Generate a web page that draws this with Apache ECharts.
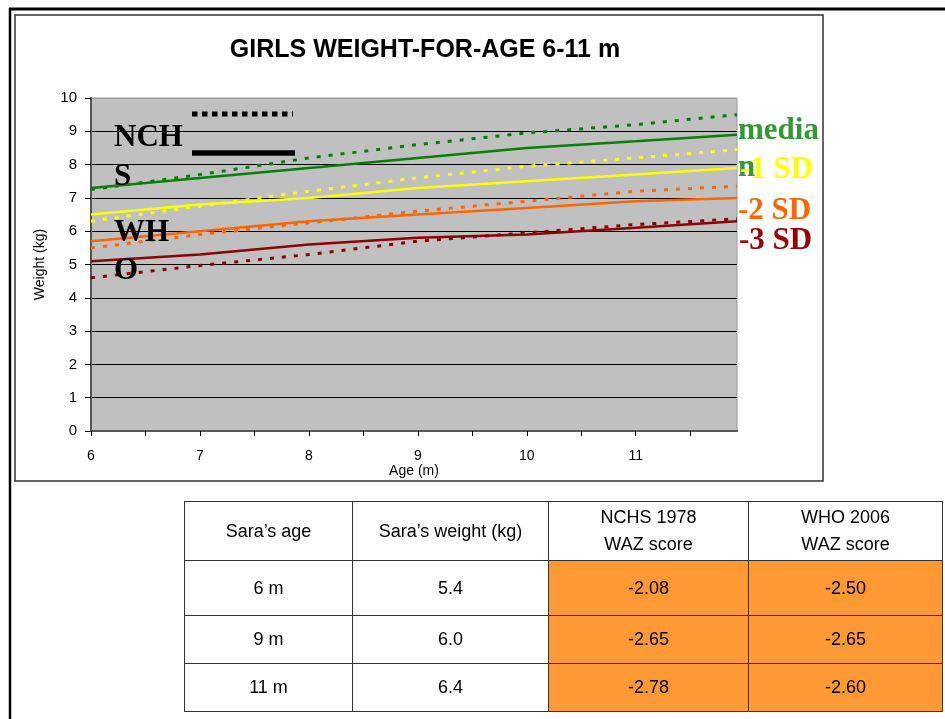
<!DOCTYPE html>
<html>
<head>
<meta charset="utf-8">
<title>Girls weight-for-age 6-11 m</title>
<script src="https://cdn.jsdelivr.net/npm/echarts@6/dist/echarts.min.js"></script>
<style>
body { margin: 0; background: #fff; }
#wrap { position: relative; width: 945px; height: 719px; overflow: hidden; }
#chart { position: absolute; left: 0; top: 0; width: 945px; height: 719px; }
#waz { position: absolute; left: 184px; top: 501px; width: 758px; border-collapse: collapse; table-layout: fixed;
       font-family: 'Liberation Sans', Arial, sans-serif; font-size: 18px; color: #000; }
#waz td { border: 1.5px solid #333; text-align: center; padding: 0; line-height: 27px; }
#waz td.hot { background: #ff9933; }
</style>
</head>
<body>
<div id="wrap">
  <div id="chart"></div>
  <table id="waz">
    <colgroup><col style="width:168px"><col style="width:196px"><col style="width:200px"><col style="width:194px"></colgroup>
    <tbody id="waz-body"></tbody>
  </table>
</div>
<script>
// ages (months) of the plotted points
var ages = [6, 7, 8, 9, 10, 11, 11.93];

// WHO 2006 (solid)
var whoMedian = [7.3, 7.6, 7.9, 8.2, 8.5, 8.7, 8.9];
var whoSd1 = [6.5, 6.8, 7.0, 7.3, 7.5, 7.7, 7.9];
var whoSd2 = [5.7, 6.0, 6.3, 6.5, 6.7, 6.9, 7.0];
var whoSd3 = [5.1, 5.3, 5.6, 5.8, 5.9, 6.1, 6.3];

// NCHS 1978 (dotted)
var nchsMedian = [7.25, 7.7, 8.2, 8.6, 8.95, 9.2, 9.5];
var nchsSd1 = [6.3, 6.75, 7.2, 7.6, 7.95, 8.2, 8.45];
var nchsSd2 = [5.5, 5.9, 6.25, 6.6, 6.9, 7.2, 7.35];
var nchsSd3 = [4.6, 4.97, 5.3, 5.7, 5.95, 6.2, 6.37];

var xTicks = [6, 6.5, 7, 7.5, 8, 8.5, 9, 9.5, 10, 10.5, 11, 11.5];
var xLabels = [6, 7, 8, 9, 10, 11];

// table
var tableHead = ['Sara\u2019s age', 'Sara\u2019s weight (kg)', 'NCHS 1978<br>WAZ score', 'WHO 2006<br>WAZ score'];
var saraAge = ['6 m', '9 m', '11 m'];
var saraWeight = ['5.4', '6.0', '6.4'];
var nchsWaz = ['-2.08', '-2.65', '-2.78'];
var whoWaz = ['-2.50', '-2.65', '-2.60'];

var rowHeights = [59, 55, 48, 48];
var html = '<tr style="height:' + rowHeights[0] + 'px">';
tableHead.forEach(function (h) { html += '<td>' + h + '</td>'; });
html += '</tr>';
for (var i = 0; i < saraAge.length; i++) {
    html += '<tr style="height:' + rowHeights[i + 1] + 'px"><td>' + saraAge[i] + '</td><td>' + saraWeight[i] +
        '</td><td class="hot">' + nchsWaz[i] + '</td><td class="hot">' + whoWaz[i] + '</td></tr>';
}
document.getElementById('waz-body').innerHTML = html;

function pairs(ys) {
    return ys.map(function (y, i) { return [ages[i], y]; });
}

var GREEN = '#008000', YELLOW = '#ffff00', ORANGE = '#ff6600', DARKRED = '#8b0000';
var serif = "'Liberation Serif', 'Times New Roman', serif";

function dotted(name, color, ys) {
    return { name: name, type: 'line', data: pairs(ys), symbol: 'none', z: 2,
             lineStyle: { color: color, width: 3, type: [4, 8] } };
}
function solid(name, color, ys) {
    return { name: name, type: 'line', data: pairs(ys), symbol: 'none', z: 3,
             lineStyle: { color: color, width: 2.5 } };
}
function label(text, x, y, color) {
    return { type: 'text', left: x, top: y, z: 10,
             style: { text: text, fill: color, font: 'bold 31px ' + serif, verticalAlign: 'middle' } };
}

var myChart = echarts.init(document.getElementById('chart'), null, { renderer: 'canvas' });
var option = {
    animation: false,
    backgroundColor: '#fff',
    textStyle: { fontFamily: "'Liberation Sans', Arial, sans-serif" },
    title: {
        text: 'GIRLS WEIGHT-FOR-AGE 6-11 m',
        left: 420, top: 33, textAlign: 'center',
        textStyle: { fontSize: 25, fontWeight: 'bold', color: '#000', fontFamily: "'Liberation Sans', Arial, sans-serif" }
    },
    grid: {
        left: 91, top: 98, width: 646, height: 333,
        show: true, backgroundColor: '#c0c0c0', borderColor: '#999', borderWidth: 1
    },
    xAxis: {
        type: 'value', min: 6, max: 11.93,
        name: 'Age (m)', nameLocation: 'middle', nameGap: 30,
        nameTextStyle: { fontSize: 14, color: '#000' },
        axisLine: { lineStyle: { color: '#555', width: 2 } },
        axisTick: { show: true, length: 5, customValues: xTicks, lineStyle: { color: '#000' } },
        axisLabel: { customValues: xLabels, fontSize: 14, color: '#000', margin: 18 },
        splitLine: { show: false }
    },
    yAxis: {
        type: 'value', min: 0, max: 10, interval: 1,
        name: 'Weight (kg)', nameLocation: 'middle', nameGap: 44,
        nameTextStyle: { fontSize: 14, color: '#000' },
        axisLine: { show: true, lineStyle: { color: '#555', width: 2 } },
        axisTick: { show: true, length: 6, lineStyle: { color: '#000' } },
        axisLabel: { fontSize: 15, color: '#000', margin: 14 },
        splitLine: { show: true, lineStyle: { color: ['#000', '#000', '#000', '#000', '#000', '#000', '#000', '#000', '#000', '#000', '#999'], width: 1 } }
    },
    series: [
        dotted('NCHS median', GREEN, nchsMedian),
        dotted('NCHS -1 SD', YELLOW, nchsSd1),
        dotted('NCHS -2 SD', ORANGE, nchsSd2),
        dotted('NCHS -3 SD', DARKRED, nchsSd3),
        solid('WHO median', GREEN, whoMedian),
        solid('WHO -1 SD', YELLOW, whoSd1),
        solid('WHO -2 SD', ORANGE, whoSd2),
        solid('WHO -3 SD', DARKRED, whoSd3)
    ],
    graphic: [
        // outer frame lines
        { type: 'line', z: 1, shape: { x1: 9, y1: 9, x2: 945, y2: 9 }, style: { stroke: '#000', lineWidth: 3 } },
        { type: 'line', z: 1, shape: { x1: 10, y1: 8, x2: 10, y2: 719 }, style: { stroke: '#000', lineWidth: 2.5 } },
        // chart box
        { type: 'rect', z: 0, shape: { x: 15, y: 15, width: 808, height: 466 }, style: { fill: 'none', stroke: '#333', lineWidth: 1.5 } },
        // in-plot legend
        label('NCH', 114, 122, '#000'),
        label('S', 114, 161, '#000'),
        label('WH', 114, 217, '#000'),
        label('O', 114, 255, '#000'),
        { type: 'line', z: 10, shape: { x1: 192, y1: 114, x2: 293, y2: 114 }, style: { stroke: '#000', lineWidth: 5, lineDash: [5.5, 4.5] } },
        { type: 'line', z: 10, shape: { x1: 192, y1: 153, x2: 295, y2: 153 }, style: { stroke: '#000', lineWidth: 5.5 } },
        // right-hand curve labels
        label('media', 738, 115, '#339933'),
        label('n', 738, 152, '#339933'),
        label('-1 SD', 740, 154, YELLOW),
        label('-2 SD', 738, 195, ORANGE),
        label('-3 SD', 739, 225, '#990000')
    ]
};
myChart.setOption(option);
</script>
</body>
</html>
